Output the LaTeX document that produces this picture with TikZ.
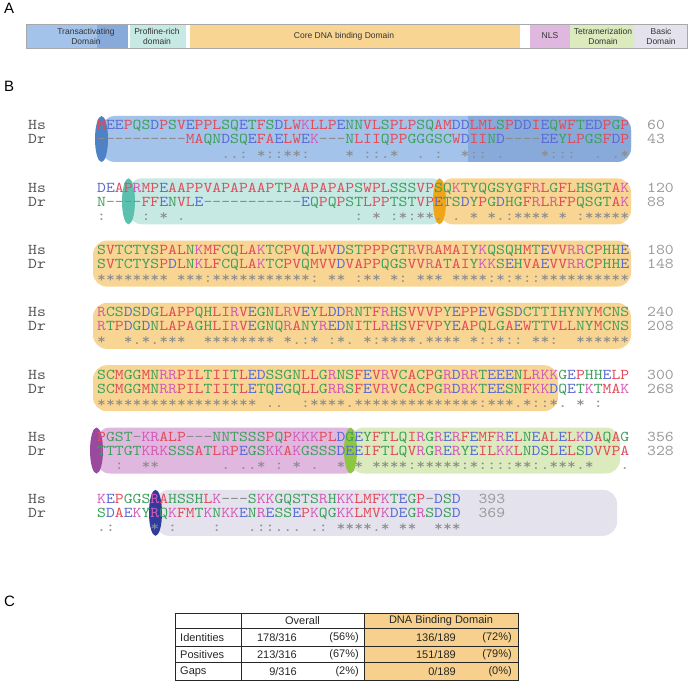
\documentclass[tikz,border=0pt]{standalone}
\usepackage{fontspec}
\setmainfont{Liberation Sans}
\newfontfamily\seqfont{lmmono10-regular}[Extension=.otf, FakeStretch=1.126]
\usetikzlibrary{positioning,calc}

% residue colours (ClustalX style)
\definecolor{aared}{HTML}{E14B5A}
\definecolor{aablue}{HTML}{5A6BD2}
\definecolor{aamag}{HTML}{D35AB8}
\definecolor{aagreen}{HTML}{3F9F5C}
\definecolor{aagap}{HTML}{8A8A8A}
\colorlet{aaA}{aared}\colorlet{aaV}{aared}\colorlet{aaF}{aared}\colorlet{aaP}{aared}
\colorlet{aaM}{aared}\colorlet{aaI}{aared}\colorlet{aaL}{aared}\colorlet{aaW}{aared}
\colorlet{aaD}{aablue}\colorlet{aaE}{aablue}
\colorlet{aaK}{aamag}\colorlet{aaR}{aamag}
\colorlet{aaS}{aagreen}\colorlet{aaT}{aagreen}\colorlet{aaY}{aagreen}\colorlet{aaH}{aagreen}
\colorlet{aaC}{aagreen}\colorlet{aaN}{aagreen}\colorlet{aaG}{aagreen}\colorlet{aaQ}{aagreen}
\definecolor{labgray}{HTML}{555555}
\definecolor{numgray}{HTML}{9A9A9A}
\definecolor{consgray}{HTML}{8C8C8C}
% domain colours
\definecolor{tadom}{HTML}{A3C3EA}
\definecolor{tadark}{HTML}{88AADB}
\definecolor{tacap}{HTML}{4E82C4}
\definecolor{prdom}{HTML}{C6E9E4}
\definecolor{prcap}{HTML}{5CC0AE}
\definecolor{dbdom}{HTML}{F8D592}
\definecolor{dbcap}{HTML}{F0A519}
\definecolor{nlsdom}{HTML}{E0B8DF}
\definecolor{nlscap}{HTML}{9A4A9E}
\definecolor{tetdom}{HTML}{DBEBBD}
\definecolor{tetcap}{HTML}{8DC640}
\definecolor{basdom}{HTML}{E4E2ED}
\definecolor{bascap}{HTML}{2F3C9C}
\definecolor{barline}{HTML}{A8A8A8}
\definecolor{tabfill}{HTML}{F6D08C}

\newcommand{\cw}{8.87}
\newcommand{\sx}{97}
\def\aachar#1{\ifx-#1\textcolor{aagap}{-}\else\textcolor{aa#1}{#1}\fi}
\def\aaloop#1{\ifx\relax#1\else\aachar{#1}\expandafter\aaloop\fi}
\newcommand{\aaseq}[1]{\expandafter\aaloop#1\relax}
% conservation line: _ = blank, p = period
\def\conschar#1{\ifx_#1\hphantom{*}\else\ifx p#1.\else#1\fi\fi}
\def\consloop#1{\ifx\relax#1\else\conschar{#1}\expandafter\consloop\fi}
\newcommand{\consseq}[1]{\expandafter\consloop#1\relax}

\tikzset{
    seqsty/.style={anchor=base west, inner sep=0pt, font=\seqfont\fontsize{15}{15}\selectfont},
    labsty/.style={seqsty, text=labgray},
    numsty/.style={seqsty, text=numgray},
    conssty/.style={seqsty, text=consgray},
    panelsty/.style={anchor=north west, inner sep=0pt, font=\fontsize{15}{15}\selectfont},
    domsty/.style={inner sep=0pt, align=center, font=\fontsize{8.5}{10}\selectfont, text=black!80},
    boxsty/.style={rounded corners=14pt},
    tabsty/.style={inner sep=0pt, font=\fontsize{11}{12}\selectfont, text=black!85},
    gridsty/.style={draw=black!85, line width=0.8pt},
}

\begin{document}
\begin{tikzpicture}[x=1pt,y=-1pt]
  \useasboundingbox (0,0) rectangle (691,695);

  % ---- A: domain map
  \node[panelsty] (pa) at (4,3) {A};
  \fill[tadom] (26,24) rectangle (128,48);
  \fill[tadark] (97,24) rectangle (128,48);
  \fill[prdom] (130,24) rectangle (186,48);
  \fill[dbdom] (190,24) rectangle (520,48);
  \fill[nlsdom] (530,24) rectangle (570,48);
  \fill[tetdom] (570,24) rectangle (634,48);
  \fill[basdom] (634,24) rectangle (687,48);
  \draw[barline, line width=0.8pt] (26,24) rectangle (687,48);
  \node[domsty] (tad) at (86,36) {Transactivating\\Domain};
  \node[domsty] (prd) at (157,36) {Profline-rich\\domain};
  \node[domsty] (dbd) at (344,36) {Core DNA binding Domain};
  \node[domsty] (nls) at (550,36) {NLS};
  \node[domsty] (tet) at (603,36) {Tetramerization\\Domain};
  \node[domsty] (bas) at (661,36) {Basic\\Domain};

  % ---- B: alignment
  \node[panelsty] (pb) at (4,81) {B};
  % block 1
  \fill[tadom, boxsty] (101,116) rectangle (631,162);
  \begin{scope}
    \clip (468,100) rectangle (700,180);
    \fill[tadark, boxsty] (101,116) rectangle (631,162);
  \end{scope}
  \fill[tacap] (101.5,139) ellipse [x radius=6.5, y radius=23];
  % block 2
  \fill[prdom, boxsty] (128,178.3) rectangle (445,224.3);
  \fill[prcap] (128.5,201.3) ellipse [x radius=6.5, y radius=23];
  \fill[dbdom, boxsty] (439,178.3) rectangle (631,224.3);
  \fill[dbcap] (439.5,201.3) ellipse [x radius=6.5, y radius=23];
  % blocks 3-5
  \fill[dbdom, boxsty] (93,240.6) rectangle (631,286.6);
  \fill[dbdom, boxsty] (93,302.9) rectangle (631,348.9);
  \fill[dbdom, boxsty] (93,365.2) rectangle (558,411.2);
  % block 6
  \fill[nlsdom, boxsty] (96,427.5) rectangle (360,473.5);
  \fill[nlscap] (96.5,450.5) ellipse [x radius=6.5, y radius=23];
  \fill[tetdom, boxsty] (350,427.5) rectangle (620,473.5);
  \fill[tetcap] (350.5,450.5) ellipse [x radius=6.5, y radius=23];
  % block 7
  \fill[basdom, boxsty] (155,489.8) rectangle (617,535.8);
  \fill[bascap] (155.5,512.8) ellipse [x radius=6.5, y radius=23];

  \foreach \k/\hseq/\dseq/\cseq/\hn/\dn/\len in {
    0/MEEPQSDPSVEPPLSQETFSDLWKLLPENNVLSPLPSQAMDDLMLSPDDIEQWFTEDPGP/----------MAQNDSQEFAELWEK---NLIIQPPGGGSCWDIIND----EEYLPGSFDP/______________pp:_*::**:____*_::p*__p_:__*::_p____*:::__p_p*/60/43/60,
    1/DEAPRMPEAAPPVAPAPAAPTPAAPAPAPSWPLSSSVPSQKTYQGSYGFRLGFLHSGTAK/N----FFENVLE-----------EQPQPSTLPPTSTVPETSDYPGDHGFRLRFPQSGTAK/:____:_*_p___________________:_*_:*:**p_p_*_*p:****_*_:*****/120/88/60,
    2/SVTCTYSPALNKMFCQLAKTCPVQLWVDSTPPPGTRVRAMAIYKQSQHMTEVVRRCPHHE/SVTCTYSPDLNKLFCQLAKTCPVQMVVDVAPPQGSVVRATAIYKKSEHVAEVVRRCPHHE/********_***:***********:_**_:**_*:_***_****:*:*::**********/180/148/60,
    3/RCSDSDGLAPPQHLIRVEGNLRVEYLDDRNTFRHSVVVPYEPPEVGSDCTTIHYNYMCNS/RTPDGDNLAPAGHLIRVEGNQRANYREDNITLRHSVFVPYEAPQLGAEWTTVLLNYMCNS/*__*p*p***__********_*p:*_:*p_*:****p****_*::*::_**:__******/240/208/60,
    4/SCMGGMNRRPILTIITLEDSSGNLLGRNSFEVRVCACPGRDRRTEEENLRKKGEPHHELP/SCMGGMNRRPILTIITLETQEGQLLGRRSFEVRVCACPGRDRKTEESNFKKDQETKTMAK/******************_pp__:****p**************:***p*::*p_*_:___/300/268/60,
    5/PGST-KRALP---NNTSSSPQPKKKPLDGEYFTLQIRGRERFEMFRELNEALELKDAQAG/TTTGTKRKSSSATLRPEGSKKAKGSSSDEEIFTLQVRGRERYEILKKLNDSLELSDVVPA/__:__**_______p_pp*_:_*_p__*_*_****:*****:*::::**:p***p*___p/356/328/60,
    6/KEPGGSRAHSSHLK---SKKGQSTSRHKKLMFKTEGP-DSD/SDAEKYRQKFMTKNKKENRESSEPKQGKKLMVKDEGRSDSD/p:____*_:____:___p::ppp_p:_****p*_**__***/393/369/41}
  {
    \pgfmathsetmacro{\yb}{130+62.3*\k}
    \pgfmathsetmacro{\xn}{\sx+(\len+2)*\cw}
    \node[labsty] (lh\k) at (28,\yb) {Hs};
    \node[labsty] (ld\k) at (28,\yb+14) {Dr};
    \node[seqsty] (hs\k) at (\sx,\yb) {\aaseq{\hseq}};
    \node[seqsty] (dr\k) at (\sx,\yb+14) {\aaseq{\dseq}};
    \node[conssty] (cs\k) at (\sx,\yb+28) {\consseq{\cseq}};
    \node[numsty] (nh\k) at (\xn,\yb) {\hn};
    \node[numsty] (nd\k) at (\xn,\yb+14) {\dn};
  }

  % ---- C: identity table
  \node[panelsty] (pc) at (4,596) {C};
  \fill[tabfill] (364,613) rectangle (518,680);
  \draw[gridsty] (175,613) rectangle (518,680);
  \draw[gridsty] (241,613) -- (241,680);
  \draw[gridsty] (364,613) -- (364,680);
  \draw[gridsty] (175,628.5) -- (518,628.5);
  \draw[gridsty] (175,646) -- (518,646);
  \draw[gridsty] (175,662.5) -- (518,662.5);
  \node[tabsty] (hov) at (302.5,621) {Overall};
  \node[tabsty] (hdb) at (441,621) {DNA Binding Domain};
  \node[tabsty, anchor=west] (rid) at (180,637.5) {Identities};
  \node[tabsty, anchor=west] (rps) at (180,654.5) {Positives};
  \node[tabsty, anchor=west] (rgp) at (180,671.5) {Gaps};
  \node[tabsty, anchor=east] (oid) at (297,637.5) {178/316};
  \node[tabsty, anchor=east] (pid) at (359,637.5) {(56\%)};
  \node[tabsty, anchor=east] (did) at (456,637.5) {136/189};
  \node[tabsty, anchor=east] (qid) at (512,637.5) {(72\%)};
  \node[tabsty, anchor=east] (ops) at (297,654.5) {213/316};
  \node[tabsty, anchor=east] (pps) at (359,654.5) {(67\%)};
  \node[tabsty, anchor=east] (dps) at (456,654.5) {151/189};
  \node[tabsty, anchor=east] (qps) at (512,654.5) {(79\%)};
  \node[tabsty, anchor=east] (ogp) at (297,671.5) {9/316};
  \node[tabsty, anchor=east] (pgp) at (359,671.5) {(2\%)};
  \node[tabsty, anchor=east] (dgp) at (456,671.5) {0/189};
  \node[tabsty, anchor=east] (qgp) at (512,671.5) {(0\%)};
\end{tikzpicture}
\end{document}
